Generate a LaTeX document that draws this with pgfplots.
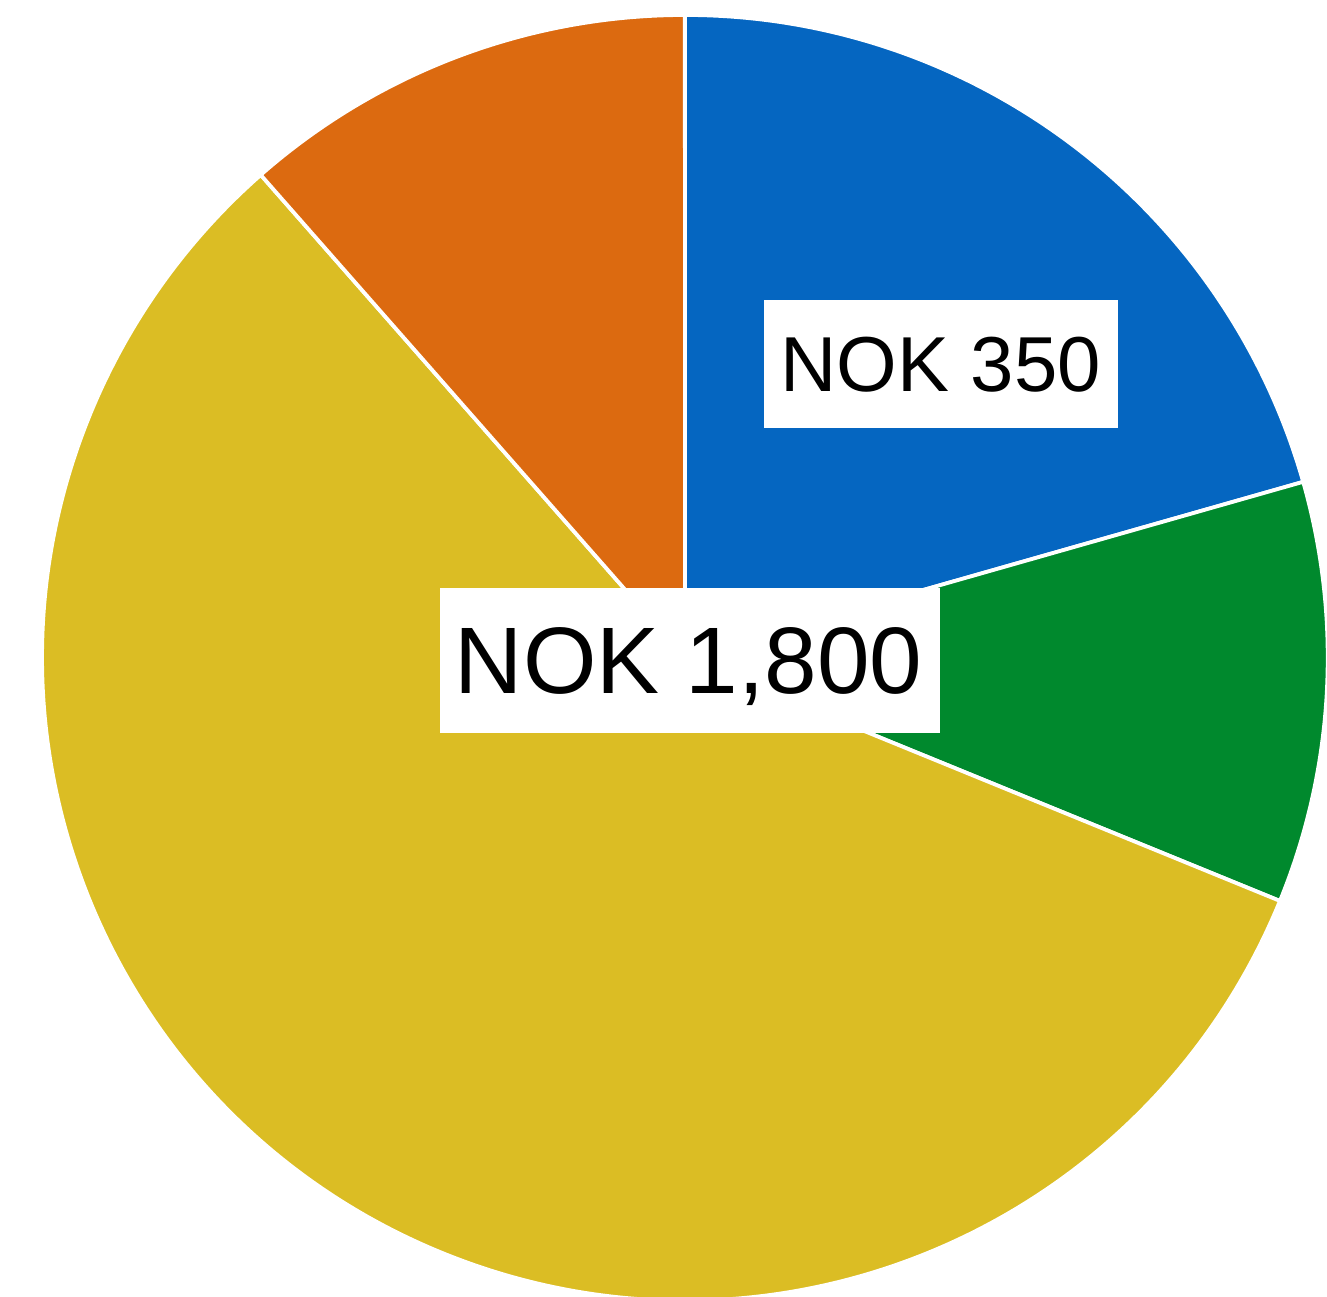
\documentclass[border=0pt]{standalone}
\usepackage{pgfplots}
\usepackage{pgfplotstable}
\pgfplotsset{compat=1.18}
\usepackage{fontspec}
\setmainfont{Liberation Sans}

\definecolor{pieblue}{HTML}{0566C1}
\definecolor{piegreen}{HTML}{00892D}
\definecolor{pieyellow}{HTML}{DBBD24}
\definecolor{pieorange}{HTML}{DC6A10}

% slices, clockwise from 12 o'clock
\pgfplotstableread{
value colour
350 pieblue
180 piegreen
975 pieyellow
195 pieorange
}\piedata

\begin{document}
\begin{tikzpicture}
\useasboundingbox (-6.394,-5.967) rectangle (5.993,6.140);

% total and start/end angles of each slice
\def\total{0}
\pgfplotsforeachungrouped \i in {0,...,3}{
  \pgfplotstablegetelem{\i}{value}\of\piedata
  \pgfmathsetmacro\total{\total+\pgfplotsretval}
}
\def\cur{90}
\pgfplotsforeachungrouped \i in {0,...,3}{
  \pgfplotstablegetelem{\i}{value}\of\piedata
  \pgfmathsetmacro\nxt{\cur-\pgfplotsretval/\total*360}
  \expandafter\xdef\csname sa\i\endcsname{\cur}
  \expandafter\xdef\csname ea\i\endcsname{\nxt}
  \pgfplotstablegetelem{\i}{colour}\of\piedata
  \expandafter\xdef\csname col\i\endcsname{\pgfplotsretval}
  \let\cur\nxt
}

\begin{axis}[
    x=1cm, y=1cm,
    anchor=origin,
    xmin=-6.4, xmax=6.0,
    ymin=-6.0, ymax=6.2,
    hide axis,
    clip=false,
]
\pgfplotsinvokeforeach{0,...,3}{
  \edef\doslice{\noexpand\draw[fill=\csname col#1\endcsname, draw=white, line width=1pt, line join=round]
    (axis cs:0,0) -- ++(\csname sa#1\endcsname:6cm)
    arc[start angle=\csname sa#1\endcsname, end angle=\csname ea#1\endcsname, radius=6cm] -- cycle;}
  \doslice
}
% label boxes
\node[fill=white, inner sep=0pt, minimum width=94pt, minimum height=34pt] at (axis cs:2.39,2.742) {};
\node[fill=white, inner sep=0pt, minimum width=133pt, minimum height=38.6pt] at (axis cs:0.047,-0.025) {};
\node[inner sep=0pt, font=\fontsize{20.7}{25}\selectfont] at (axis cs:2.385,2.735) {NOK 350};
\node[inner sep=0pt, font=\fontsize{25.1}{30}\selectfont] at (axis cs:0.035,-0.085) {NOK 1,800};
\end{axis}
\end{tikzpicture}
\end{document}
